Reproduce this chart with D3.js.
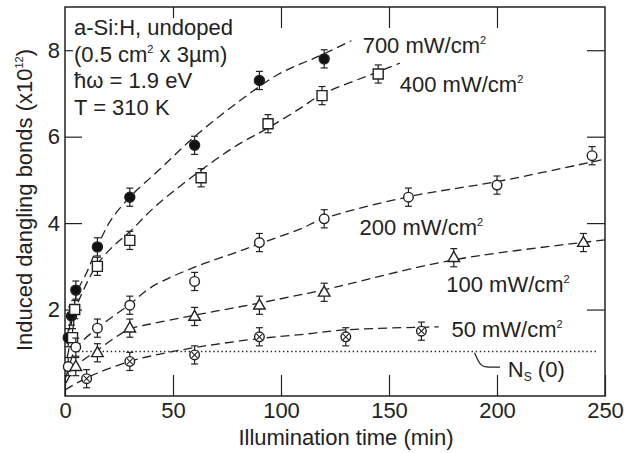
<!DOCTYPE html>
<meta charset="utf-8">
<style>
body { margin: 0; background: #fff; }
text { font-family: "Liberation Sans", Arial, sans-serif; fill: #222; }
.frame { fill: none; stroke: #222; stroke-width: 1.5; }
.tick line { stroke: #222; stroke-width: 1.2; }
.fit { fill: none; stroke: #222; stroke-width: 1.3; stroke-dasharray: 9,5; }
.ns { fill: none; stroke: #222; stroke-width: 1.7; stroke-dasharray: 1.4,2.7; }
.leader { fill: none; stroke: #222; stroke-width: 1.2; }
.err { stroke: #222; stroke-width: 1.2; }
.mk { stroke: #222; stroke-width: 1.4; fill: #fff; }
</style>
<svg width="624" height="453"></svg>
<script src="https://d3js.org/d3.v7.min.js"></script>
<script>

// measured points (time in min, dangling bonds in 1e12)
var t700 = [1.5, 3, 5, 15, 30, 60, 90, 120],
    v700 = [1.35, 1.85, 2.45, 3.45, 4.6, 5.8, 7.3, 7.8];
var t400 = [3.5, 4.5, 15, 30, 63, 94, 119, 145],
    v400 = [1.35, 2.0, 3.0, 3.6, 5.05, 6.3, 6.95, 7.45];
var t200 = [1.5, 5, 15, 30, 60, 90, 120, 159, 200, 244],
    v200 = [0.68, 1.13, 1.57, 2.1, 2.65, 3.55, 4.1, 4.6, 4.88, 5.56];
var t100 = [5, 15, 30, 60, 90, 120, 180, 240],
    v100 = [0.68, 1.0, 1.57, 1.84, 2.1, 2.4, 3.2, 3.55];
var t50 = [10, 30, 60, 90, 130, 165],
    v50 = [0.4, 0.8, 0.95, 1.37, 1.37, 1.5];
var errBar = 0.21;

// dashed guide curves
var fit700 = [[1, 1.2], [3, 1.85], [6, 2.45], [10, 2.85], [15, 3.45], [21, 4.05], [30, 4.6], [44, 5.25],
              [60, 6.0], [78, 6.72], [99, 7.45], [117, 7.85], [132.6, 8.22]];
var fit400 = [[1, 0.9], [3.5, 1.5], [5, 2.0], [9, 2.5], [15, 3.05], [22, 3.45], [30, 3.8], [41, 4.35],
              [56, 4.96], [78, 5.75], [94, 6.2], [109, 6.66], [119, 6.98], [145, 7.5], [155, 7.7]];
var fit200 = [[0.5, 0.45], [2, 0.7], [5, 1.1], [15, 1.57], [30, 2.12], [40, 2.52], [61, 3.0], [78, 3.3],
              [90, 3.52], [108.7, 3.86], [119.5, 4.1], [159, 4.61], [200, 4.96], [250, 5.48]];
var fit100 = [[0.5, 0.3], [5, 0.68], [15, 1.06], [30, 1.55], [39, 1.66], [61, 1.88], [90, 2.15],
              [108.7, 2.34], [119.5, 2.45], [180, 3.15], [250, 3.61]];
var fit50 = [[0, 0.14], [10, 0.42], [30, 0.8], [45, 0.98], [60, 1.12], [69, 1.19], [90, 1.33],
             [109, 1.42], [130, 1.53], [173, 1.6]];

var nsLevel = 1.03, nsRange = [6, 246];
var nsLeader = [[189.6, 1.0], [192.5, 0.67], [196, 0.67], [201.4, 0.67]];

var xTicks = [0, 50, 100, 150, 200, 250],
    yTicks = [2, 4, 6, 8];

var seriesNames = ["700", "400", "200", "100", "50"];
var labelPos = [[137.8, 7.93], [155, 7.04], [136.4, 3.73], [176.5, 2.41], [178.9, 1.36]];

var svg = d3.select("svg");

var x = d3.scaleLinear().domain([0, 250]).range([65, 605]),
    y = d3.scaleLinear().domain([0, 9]).range([396, 7]);

var series = [
  {t: t700, v: v700, fit: fit700, marker: "filled"},
  {t: t400, v: v400, fit: fit400, marker: "square"},
  {t: t200, v: v200, fit: fit200, marker: "circle"},
  {t: t100, v: v100, fit: fit100, marker: "triangle"},
  {t: t50, v: v50, fit: fit50, marker: "cross"}
];

// axes (ticks point inward)
svg.append("g")
    .attr("transform", "translate(0," + y(0) + ")")
    .call(d3.axisBottom(x).tickValues(xTicks).tickSizeInner(-21).tickSizeOuter(0).tickPadding(6));
svg.append("g")
    .attr("transform", "translate(" + x(0) + ",0)")
    .call(d3.axisLeft(y).tickValues(yTicks).tickSizeInner(-17).tickSizeOuter(0).tickPadding(5));
svg.append("g")
    .attr("transform", "translate(0," + y(9) + ")")
    .call(d3.axisTop(x).tickValues([50, 100, 150, 200]).tickSizeInner(-21).tickSizeOuter(0).tickFormat(""));
svg.append("g")
    .attr("transform", "translate(" + x(250) + ",0)")
    .call(d3.axisRight(y).tickValues(yTicks).tickSizeInner(-18).tickSizeOuter(0).tickFormat(""));

svg.selectAll(".domain").remove();
svg.selectAll("g").attr("font-family", null).attr("font-size", 22);

svg.append("rect")
    .attr("class", "frame")
    .attr("x", x(0)).attr("y", y(9))
    .attr("width", x(250) - x(0)).attr("height", y(0) - y(9));

// axis titles
svg.append("text")
    .attr("x", 346).attr("y", 445)
    .attr("text-anchor", "middle")
    .attr("font-size", 22)
    .text("Illumination time (min)");

var yl = svg.append("text")
    .attr("transform", "translate(32,200) rotate(-90)")
    .attr("text-anchor", "middle")
    .attr("font-size", 22);
yl.append("tspan").text("Induced dangling bonds (x10");
yl.append("tspan").attr("font-size", 11).attr("dy", -9).text("12");
yl.append("tspan").attr("dy", 9).text(")");

// sample info block, with white backing (it cuts the top tick)
var info = svg.append("g").attr("font-size", 22);
var infoLines = [["a-Si:H, undoped"], ["(0.5 cm", "2", " x 3\u00b5m)"], ["\u0127\u03c9 = 1.9 eV"], ["T = 310 K"]];
infoLines.forEach(function(parts, i) {
  var t = info.append("text").attr("x", x(0) + 9).attr("y", 35 + i * 26.7);
  t.append("tspan").text(parts[0]);
  if (parts.length > 1) {
    t.append("tspan").attr("font-size", 11).attr("dy", -9).text(parts[1]);
    t.append("tspan").attr("dy", 9).text(parts[2]);
  }
  var b = t.node().getBBox();
  info.insert("rect", "text")
      .attr("x", b.x - 1).attr("y", b.y + 3)
      .attr("width", b.width + 2).attr("height", b.height - 3)
      .attr("fill", "#fff");
});

// N_s(0) dotted level
svg.append("line")
    .attr("class", "ns")
    .attr("x1", x(nsRange[0])).attr("x2", x(nsRange[1]))
    .attr("y1", y(nsLevel)).attr("y2", y(nsLevel));

svg.append("path")
    .attr("class", "leader")
    .attr("d", d3.line().x(function(d) { return x(d[0]); }).y(function(d) { return y(d[1]); })
      .curve(d3.curveBasis)(nsLeader));

var ns = svg.append("text")
    .attr("x", x(205)).attr("y", y(0.45))
    .attr("font-size", 22);
ns.append("tspan").text("N");
ns.append("tspan").attr("font-size", 12).attr("dy", 4).text("S");
ns.append("tspan").attr("dy", -4).text(" (0)");

// guide curves
var line = d3.line()
    .x(function(d) { return x(d[0]); })
    .y(function(d) { return y(d[1]); })
    .curve(d3.curveCatmullRom.alpha(0.5));

svg.selectAll(".fit")
    .data(series)
  .enter().append("path")
    .attr("class", "fit")
    .attr("d", function(d) { return line(d.fit); });

// series labels
seriesNames.forEach(function(name, i) {
  var t = svg.append("text")
      .attr("x", x(labelPos[i][0])).attr("y", y(labelPos[i][1]))
      .attr("font-size", 22);
  t.append("tspan").text(name + " mW/cm");
  t.append("tspan").attr("font-size", 11).attr("dy", -9).text("2");
});

// error bars and markers
var tri = d3.symbol().type(d3.symbolTriangle).size(58)(),
    sq = d3.symbol().type(d3.symbolSquare).size(100)();

series.forEach(function(s) {
  var pts = s.t.map(function(t, i) { return {t: t, v: s.v[i]}; });
  var g = svg.append("g").selectAll("g")
      .data(pts)
    .enter().append("g")
      .attr("transform", function(d) { return "translate(" + x(d.t) + "," + y(d.v) + ")"; });

  g.each(function(d) {
    var p = d3.select(this),
        up = y(d.v + errBar) - y(d.v),
        dn = y(d.v - errBar) - y(d.v);
    p.append("line").attr("class", "err").attr("y1", up).attr("y2", dn);
    p.append("line").attr("class", "err").attr("x1", -3.5).attr("x2", 3.5).attr("y1", up).attr("y2", up);
    p.append("line").attr("class", "err").attr("x1", -3.5).attr("x2", 3.5).attr("y1", dn).attr("y2", dn);

    if (s.marker == "filled") {
      p.append("circle").attr("class", "mk").attr("r", 5).style("fill", "#111");
    } else if (s.marker == "square") {
      p.append("path").attr("class", "mk").attr("d", sq);
    } else if (s.marker == "circle") {
      p.append("circle").attr("class", "mk").attr("r", 4.8);
    } else if (s.marker == "triangle") {
      p.append("path").attr("class", "mk").attr("d", tri).attr("transform", "translate(0,0.5)");
    } else {
      p.append("circle").attr("class", "mk").attr("r", 4.8);
      p.append("path").attr("class", "mk").attr("d", "M-3,-3L3,3M-3,3L3,-3").style("stroke-width", 1.1);
    }
  });
});

</script>
